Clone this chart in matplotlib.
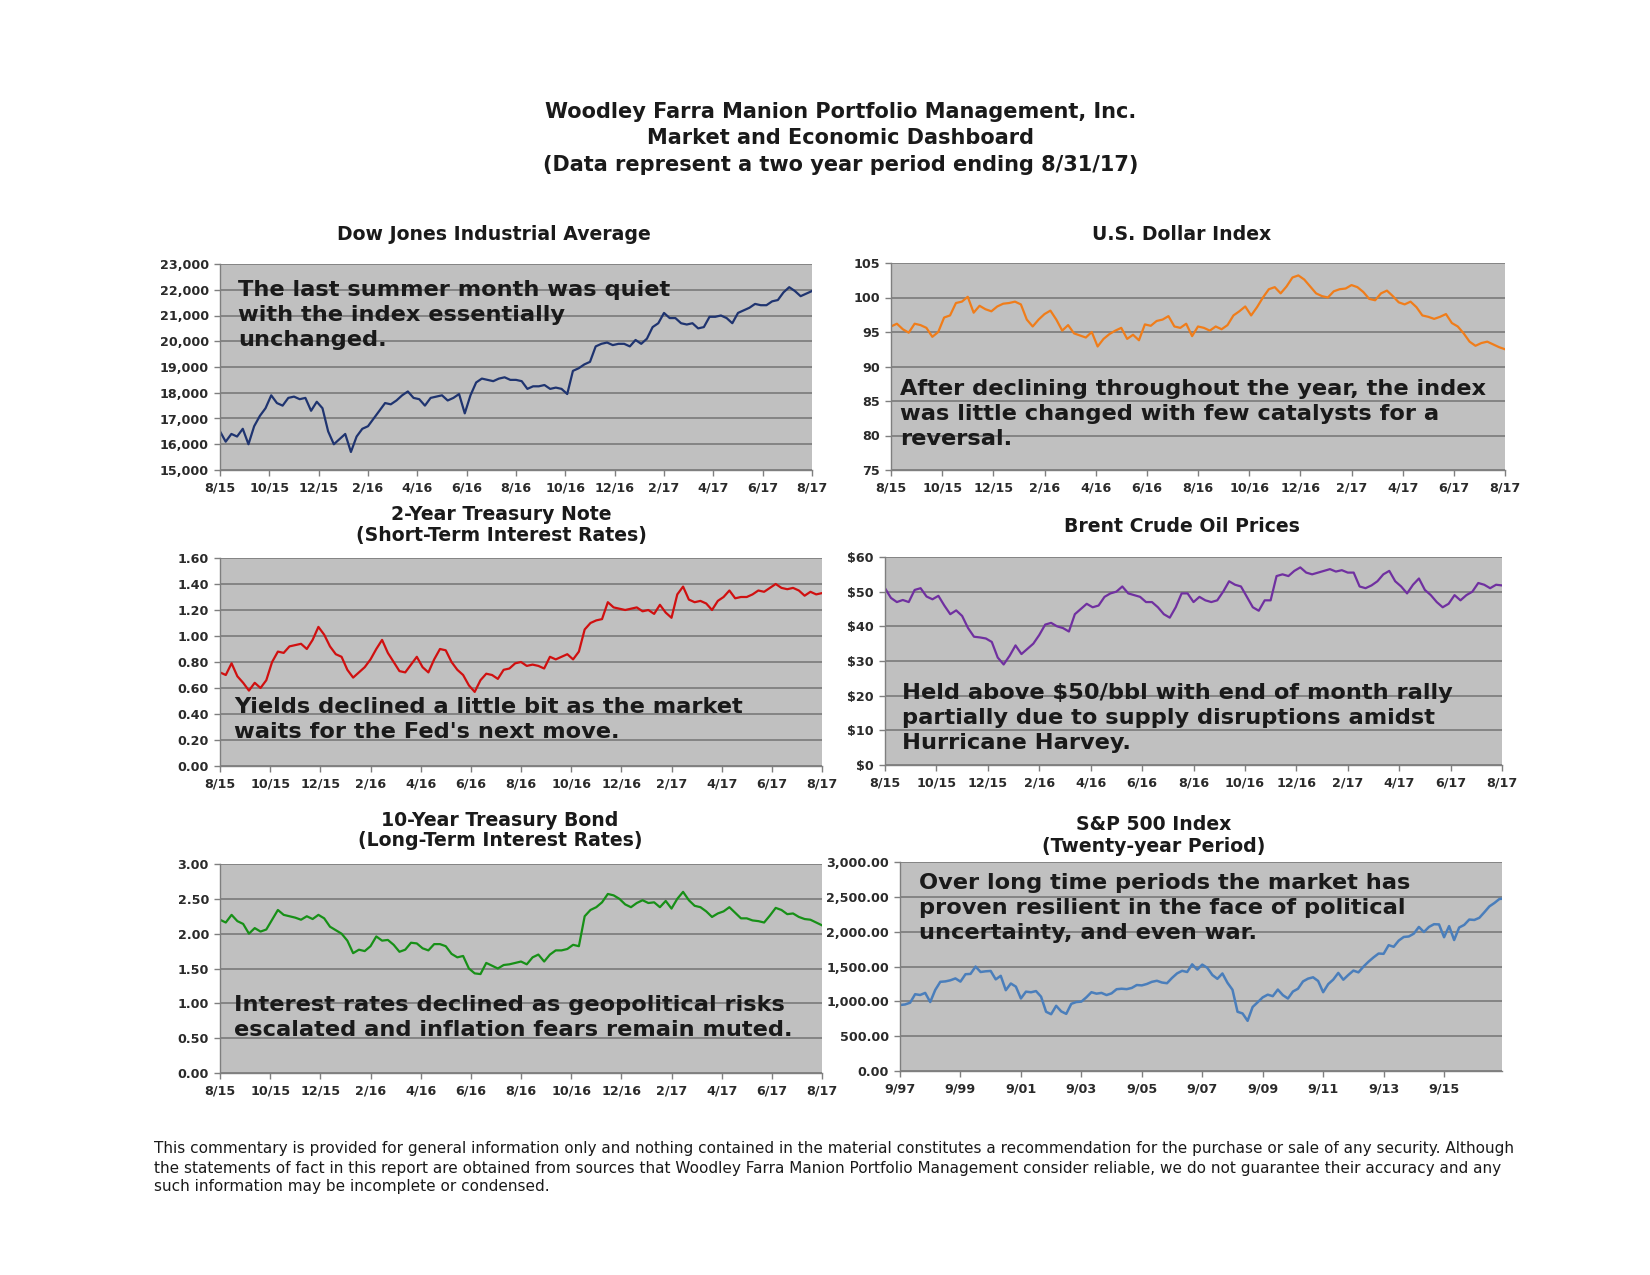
"""Market and Economic Dashboard: six small line panels (two-year window plus
a twenty-year S&P 500 view), values read off the printed dashboard, ~weekly."""
import matplotlib
matplotlib.use("Agg")
import matplotlib.pyplot as plt
from matplotlib.ticker import FuncFormatter, MultipleLocator
import numpy as np

W, H = 1650, 1275

# two-year panels: x axis is months since 8/31/15, labels every 2 months
MONTH_TICKS = list(range(0, 25, 2))
MONTH_LABELS = ["8/15", "10/15", "12/15", "2/16", "4/16", "6/16", "8/16",
                "10/16", "12/16", "2/17", "4/17", "6/17", "8/17"]

dow = [16500, 16100, 16400, 16300, 16600, 16000, 16700, 17100, 17400, 17900,
       17600, 17500, 17800, 17850, 17750, 17800, 17300, 17650, 17400, 16500,
       16000, 16200, 16400, 15700, 16300, 16600, 16700, 17000, 17300, 17600,
       17550, 17700, 17900, 18050, 17800, 17750, 17500, 17800, 17850, 17900,
       17700, 17800, 17950, 17200, 17900, 18400, 18550, 18500, 18450, 18550,
       18600, 18500, 18500, 18450, 18150, 18250, 18250, 18300, 18150, 18200,
       18150, 17950, 18850, 18950, 19100, 19200, 19800, 19900, 19950, 19850,
       19900, 19900, 19800, 20050, 19900, 20100, 20550, 20700, 21100, 20900,
       20900, 20700, 20650, 20700, 20500, 20550, 20950, 20950, 21000, 20900,
       20700, 21100, 21200, 21300, 21450, 21400, 21400, 21550, 21600, 21900,
       22100, 21950, 21750, 21850, 21950]

usd = [95.8, 96.2, 95.4, 94.9, 96.2, 96.0, 95.6, 94.3, 95.0, 97.1,
       97.4, 99.2, 99.4, 100.1, 97.8, 98.8, 98.3, 98.0, 98.7, 99.1,
       99.2, 99.4, 99.0, 96.8, 95.8, 96.8, 97.6, 98.1, 96.8, 95.2,
       96.0, 94.8, 94.5, 94.2, 95.0, 92.9, 94.0, 94.7, 95.2, 95.6,
       94.0, 94.6, 93.8, 96.1, 95.9, 96.6, 96.8, 97.3, 95.8, 95.6,
       96.2, 94.4, 95.8, 95.6, 95.2, 95.8, 95.4, 96.0, 97.4, 98.0,
       98.7, 97.4, 98.6, 100.0, 101.2, 101.5, 100.6, 101.6, 102.9, 103.2,
       102.6, 101.6, 100.6, 100.2, 100.0, 100.9, 101.2, 101.3, 101.8, 101.5,
       100.8, 99.8, 99.6, 100.6, 101.0, 100.2, 99.3, 99.0, 99.4, 98.6,
       97.4, 97.2, 96.9, 97.2, 97.6, 96.3, 95.8, 94.8, 93.6, 93.0,
       93.4, 93.6, 93.2, 92.8, 92.5]

two_year = [0.72, 0.70, 0.79, 0.69, 0.64, 0.58, 0.64, 0.60, 0.66, 0.80,
            0.88, 0.87, 0.92, 0.93, 0.94, 0.90, 0.97, 1.07, 1.01, 0.92,
            0.86, 0.84, 0.74, 0.68, 0.72, 0.76, 0.82, 0.90, 0.97, 0.87,
            0.80, 0.73, 0.72, 0.78, 0.84, 0.76, 0.72, 0.82, 0.90, 0.89,
            0.80, 0.74, 0.70, 0.62, 0.57, 0.66, 0.71, 0.70, 0.67, 0.74,
            0.75, 0.79, 0.80, 0.77, 0.78, 0.77, 0.75, 0.84, 0.82, 0.84,
            0.86, 0.82, 0.88, 1.05, 1.10, 1.12, 1.13, 1.26, 1.22, 1.21,
            1.20, 1.21, 1.22, 1.19, 1.20, 1.17, 1.24, 1.18, 1.14, 1.32,
            1.38, 1.28, 1.26, 1.27, 1.25, 1.20, 1.27, 1.30, 1.35, 1.29,
            1.30, 1.30, 1.32, 1.35, 1.34, 1.37, 1.40, 1.37, 1.36, 1.37,
            1.35, 1.31, 1.34, 1.32, 1.33]

brent = [51.0, 48.2, 47.0, 47.6, 47.0, 50.5, 51.0, 48.6, 47.8, 48.8,
         46.0, 43.5, 44.6, 43.0, 39.5, 37.0, 36.8, 36.5, 35.5, 31.0,
         29.0, 31.5, 34.5, 32.0, 33.5, 35.0, 37.5, 40.5, 41.0, 40.0,
         39.5, 38.5, 43.5, 45.0, 46.5, 45.5, 46.0, 48.5, 49.5, 50.0,
         51.5, 49.5, 49.0, 48.5, 47.0, 47.0, 45.5, 43.5, 42.5, 45.5,
         49.5, 49.5, 47.0, 48.5, 47.5, 47.0, 47.5, 50.0, 53.0, 52.0,
         51.5, 48.5, 45.5, 44.5, 47.5, 47.5, 54.5, 55.0, 54.5, 56.0,
         57.0, 55.5, 55.0, 55.5, 56.0, 56.5, 55.8, 56.2, 55.5, 55.5,
         51.5, 51.0, 51.8, 53.0, 55.0, 56.0, 53.0, 51.5, 49.5, 52.0,
         53.8, 50.5, 49.0, 47.0, 45.5, 46.5, 49.0, 47.5, 49.0, 50.0,
         52.5, 52.0, 51.0, 52.0, 51.8]

ten_year = [2.20, 2.16, 2.27, 2.18, 2.14, 2.00, 2.08, 2.03, 2.06, 2.20,
            2.34, 2.27, 2.25, 2.23, 2.20, 2.25, 2.21, 2.27, 2.22, 2.10,
            2.05, 2.00, 1.90, 1.72, 1.77, 1.75, 1.82, 1.96, 1.90, 1.91,
            1.84, 1.74, 1.77, 1.87, 1.86, 1.79, 1.76, 1.85, 1.85, 1.82,
            1.71, 1.66, 1.68, 1.50, 1.43, 1.42, 1.58, 1.54, 1.50, 1.55,
            1.56, 1.58, 1.60, 1.56, 1.66, 1.70, 1.60, 1.70, 1.76, 1.76,
            1.78, 1.84, 1.82, 2.25, 2.34, 2.38, 2.45, 2.57, 2.55, 2.50,
            2.42, 2.38, 2.44, 2.48, 2.44, 2.45, 2.38, 2.47, 2.36, 2.50,
            2.60, 2.48, 2.40, 2.38, 2.32, 2.24, 2.29, 2.32, 2.38, 2.30,
            2.22, 2.22, 2.19, 2.18, 2.16, 2.26, 2.37, 2.34, 2.28, 2.29,
            2.24, 2.21, 2.20, 2.16, 2.12]

# S&P 500, every other month from 9/97, last point 8/17
sp500 = [947, 955, 980, 1102, 1091, 1121, 990, 1164,
         1280, 1286, 1302, 1329, 1283, 1389,
         1394, 1499, 1421, 1431, 1436, 1315,
         1366, 1160, 1256, 1211, 1041, 1139,
         1130, 1147, 1067, 850, 815, 936,
         856, 820, 964, 990, 996, 1058,
         1131, 1110, 1121, 1090, 1115, 1174,
         1181, 1175, 1192, 1234, 1229, 1249,
         1280, 1295, 1270, 1260, 1336, 1401,
         1438, 1421, 1531, 1455, 1527, 1481,
         1378, 1323, 1400, 1267, 1166, 850,
         826, 720, 919, 987, 1057, 1096,
         1074, 1169, 1089, 1040, 1141, 1181,
         1286, 1326, 1345, 1292, 1131, 1247,
         1312, 1408, 1310, 1379, 1441, 1416,
         1498, 1569, 1631, 1686, 1682, 1806,
         1783, 1872, 1924, 1931, 1972, 2068,
         1995, 2068, 2107, 2104, 1920, 2080,
         1880, 2060, 2097, 2174, 2168, 2199,
         2279, 2363, 2412, 2470, 2472]
SP_TICKS = ["9/97", "9/99", "9/01", "9/03", "9/05", "9/07", "9/09", "9/11",
            "9/13", "9/15"]

GRID = "#7f7f7f"
FACE = "#c0c0c0"
TXT = "#1a1a1a"

plt.rcParams.update({
    "font.family": "DejaVu Sans",
    "font.size": 9,
    "xtick.labelsize": 9.2,
    "ytick.labelsize": 9.2,
})

fig = plt.figure(figsize=(W / 100, H / 100), dpi=100)
fig.patch.set_facecolor("white")


def px_axes(x0, y0, x1, y1):
    # rectangle given in pixels from the top-left corner
    return fig.add_axes([x0 / W, 1 - y1 / H, (x1 - x0) / W, (y1 - y0) / H])


def style(ax, ymin, ymax, step, fmt):
    ax.set_facecolor(FACE)
    ax.set_ylim(ymin, ymax)
    ax.yaxis.set_major_locator(MultipleLocator(step))
    ax.yaxis.set_major_formatter(FuncFormatter(fmt))
    ax.grid(axis="y", color=GRID, lw=1.3)
    ax.set_axisbelow(True)
    for s in ("top", "right"):
        ax.spines[s].set_visible(False)
    for s in ("left", "bottom"):
        ax.spines[s].set_color(GRID)
        ax.spines[s].set_linewidth(1.0)
    ax.tick_params(colors=GRID, labelcolor="#2a2a2a", length=4, width=1.0,
                   pad=4)
    for lab in ax.get_xticklabels() + ax.get_yticklabels():
        lab.set_fontweight("bold")


def note(x, y, lines):
    for k, line in enumerate(lines):
        fig.text(x / W, 1 - (y + 25 * k) / H, line, fontsize=16.2,
                 fontweight="bold", color=TXT, va="center", ha="left")


def title(x, y, lines):
    for k, line in enumerate(lines):
        fig.text(x / W, 1 - (y + 21 * k) / H, line, fontsize=13.6,
                 fontweight="bold", color=TXT, va="center", ha="center")


def two_year_panel(rect, values, color, ymin, ymax, step, fmt):
    ax = px_axes(*rect)
    xs = np.linspace(0, 24, len(values))
    ax.plot(xs, values, color=color, lw=1.6)
    ax.set_xlim(0, 24)
    ax.set_xticks(MONTH_TICKS)
    ax.set_xticklabels(MONTH_LABELS)
    style(ax, ymin, ymax, step, fmt)
    return ax


two_year_panel((220, 264, 812, 470), dow, "#1f3470", 15000, 23000, 1000,
               lambda v, p: f"{v:,.0f}")
two_year_panel((891, 263, 1505, 470), usd, "#f07d1a", 75, 105, 5,
               lambda v, p: f"{v:.0f}")
two_year_panel((220, 558, 822, 766), two_year, "#d01010", 0, 1.6, 0.2,
               lambda v, p: f"{v:.2f}")
two_year_panel((885, 557, 1502, 765), brent, "#7030a0", 0, 60, 10,
               lambda v, p: f"${v:.0f}")
two_year_panel((220, 864, 822, 1073), ten_year, "#179017", 0, 3, 0.5,
               lambda v, p: f"{v:.2f}")

ax = px_axes(900, 862, 1502, 1071)
sp_x = 1997 + 8 / 12 + np.arange(len(sp500)) * 2 / 12
sp_x[-1] = 2017 + 7 / 12
ax.plot(sp_x, sp500, color="#4a7ebb", lw=1.8)
ax.set_xlim(1997 + 8 / 12, 2017 + 7 / 12)
ax.set_xticks([1997 + 8 / 12 + 2 * k for k in range(len(SP_TICKS))])
ax.set_xticklabels(SP_TICKS)
style(ax, 0, 3000, 500, lambda v, p: f"{v:,.2f}")

# headings
for k, line in enumerate(["Woodley Farra Manion Portfolio Management, Inc.",
                          "Market and Economic Dashboard",
                          "(Data represent a two year period ending 8/31/17)"]):
    fig.text(841 / W, 1 - (112 + 26.5 * k) / H, line, fontsize=15,
             fontweight="bold", color=TXT, ha="center", va="center")

title(494, 234, ["Dow Jones Industrial Average"])
title(1182, 234, ["U.S. Dollar Index"])
title(501, 515, ["2-Year Treasury Note", "(Short-Term Interest Rates)"])
title(1182, 527, ["Brent Crude Oil Prices"])
title(500, 820, ["10-Year Treasury Bond", "(Long-Term Interest Rates)"])
title(1154, 825, ["S&P 500 Index", "(Twenty-year Period)"])

note(238, 290, ["The last summer month was quiet",
                "with the index essentially", "unchanged."])
note(900, 389, ["After declining throughout the year, the index",
                "was little changed with few catalysts for a", "reversal."])
note(234, 707, ["Yields declined a little bit as the market",
                "waits for the Fed's next move."])
note(902, 693, ["Held above $50/bbl with end of month rally",
                "partially due to supply disruptions amidst",
                "Hurricane Harvey."])
note(234, 1005, ["Interest rates declined as geopolitical risks",
                 "escalated and inflation fears remain muted."])
note(919, 883, ["Over long time periods the market has",
                "proven resilient in the face of political",
                "uncertainty, and even war."])

footer = [
    "This commentary is provided for general information only and nothing "
    "contained in the material constitutes a recommendation for the purchase "
    "or sale of any security. Although",
    "the statements of fact in this report are obtained from sources that "
    "Woodley Farra Manion Portfolio Management consider reliable, we do not "
    "guarantee their accuracy and any",
    "such information may be incomplete or condensed.",
]
for k, line in enumerate(footer):
    fig.text(154 / W, 1 - (1149 + 19 * k) / H, line, fontsize=11,
             color=TXT, ha="left", va="center")

fig.savefig("out.png", dpi=100, facecolor="white")
